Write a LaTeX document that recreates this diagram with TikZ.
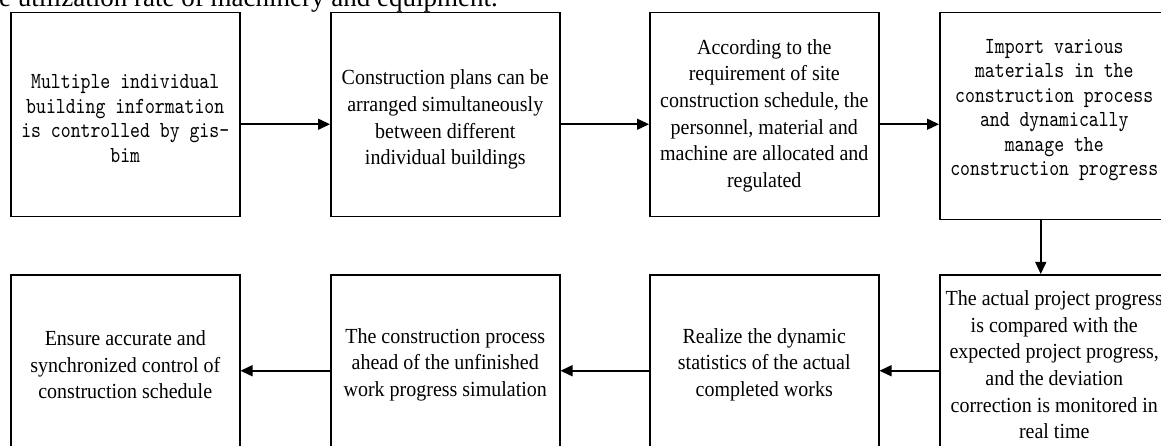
\documentclass[tikz,border=0pt]{standalone}
\usepackage{fontspec}
\setmainfont{Liberation Serif}
\newfontfamily\boxserif[FakeStretch=0.93]{Liberation Serif}
\newfontfamily\boxmono[FakeStretch=0.82]{lmmono10-regular.otf}
\usetikzlibrary{arrows.meta}
\begin{document}
\begin{tikzpicture}[x=1pt,y=-1pt,
  box/.style={draw, line width=1.5pt, minimum width=229pt, minimum height=204pt,
    anchor=north west, inner sep=0pt},
  lowbox/.style={box, minimum height=180pt},
  txt/.style={align=center, inner sep=0pt, font=\boxserif\fontsize{21.5}{26.6}\selectfont},
  mono/.style={align=center, inner sep=0pt, font=\boxmono\fontsize{23}{24.5}\selectfont},
  arr/.style={line width=1.5pt, -{Triangle[length=12pt,width=11pt]}}]
\useasboundingbox (0,0) rectangle (1161,446);
\clip (0,0) rectangle (1161,446);
\node[anchor=base west, inner sep=0pt, font=\fontsize{27}{30}\selectfont] (top) at (-1,7) {e utilization rate of machinery and equipment.};
% boxes
\node[box] (b1) at (10,12) {};
\node[box] (b2) at (330,12) {};
\node[box] (b3) at (649,12) {};
\node[box, minimum height=207pt] (b4) at (939,12) {};
\node[lowbox] (b5) at (10,274) {};
\node[lowbox] (b6) at (330,274) {};
\node[lowbox] (b7) at (649,274) {};
\node[lowbox] (b8) at (939,274) {};
% texts
\node[mono] (t1) at ([yshift=-4pt]b1.center) {Multiple individual\\building information\\is controlled by gis-\\bim};
\node[txt] (t2) at ([yshift=-5pt]b2.center) {Construction plans can be\\arranged simultaneously\\between different\\individual buildings};
\node[txt] (t3) at ([yshift=-1pt]b3.center) {According to the\\requirement of site\\construction schedule, the\\personnel, material and\\machine are allocated and\\regulated};
\node[mono] (t4) at ([yshift=6pt]b4.center) {Import various\\materials in the\\construction process\\and dynamically\\manage the\\construction progress};
\node[txt] (t5) at (b5.center) {Ensure accurate and\\synchronized control of\\construction schedule};
\node[txt] (t6) at (b6.center) {The construction process\\ahead of the unfinished\\work progress simulation};
\node[txt] (t7) at (b7.center) {Realize the dynamic\\statistics of the actual\\completed works};
\node[txt] (t8) at (b8.center) {The actual project progress\\is compared with the\\expected project progress,\\and the deviation\\correction is monitored in\\real time};
% connectors
\draw[arr] ([yshift=-9.5pt]b1.east) -- ([yshift=-9.5pt]b2.west);
\draw[arr] ([yshift=-9.5pt]b2.east) -- ([yshift=-9.5pt]b3.west);
\draw[arr] ([yshift=-9.5pt]b3.east) -- ([yshift=-9.5pt]b3.east -| b4.west);
\draw[arr] ([xshift=-13.5pt]b4.south) -- ([xshift=-13.5pt]b4.south |- b8.north);
\draw[arr] ([yshift=-6pt]b8.west) -- ([yshift=-6pt]b7.east);
\draw[arr] ([yshift=-6pt]b7.west) -- ([yshift=-6pt]b6.east);
\draw[arr] ([yshift=-6pt]b6.west) -- ([yshift=-6pt]b5.east);
\end{tikzpicture}
\end{document}
